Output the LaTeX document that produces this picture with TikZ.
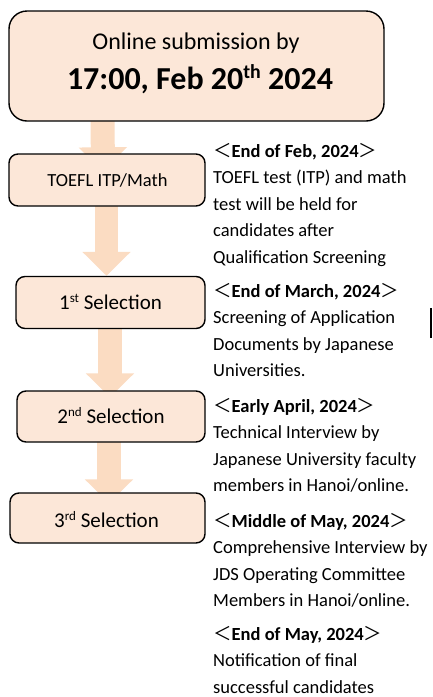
\documentclass[tikz,border=0pt]{standalone}
\usepackage{fontspec}
\setmainfont{Carlito}
\newfontfamily\cjkf{Noto Sans CJK JP}
\usetikzlibrary{arrows.meta,calc}
\definecolor{boxfill}{RGB}{252,231,216}
\definecolor{arrowfill}{RGB}{251,220,194}
\pgfdeclarelayer{bg}
\pgfsetlayers{bg,main}
\newcommand{\hdr}[1]{{\cjkf ＜}\textbf{#1}{\cjkf ＞}}
\newcommand{\sups}[1]{\raisebox{0.33em}{\scalebox{0.62}{#1}}}
\begin{document}
\begin{tikzpicture}[x=1pt,y=1pt,
  stepbox/.style={draw=black, line width=1.4pt, fill=boxfill, inner sep=0pt, rounded corners=9pt},
  fat/.style={color=arrowfill, line width=24pt, -{Triangle[length=24pt,width=47pt]}},
  side/.style={anchor=base west, inner sep=0pt, font=\fontsize{18.5}{22}\selectfont}
]
\useasboundingbox (0,0) rectangle (432,-697);
% boxes
\node[stepbox, rounded corners=18pt, minimum width=375pt, minimum height=110pt] (top) at (196.5,-66) {};
\node[anchor=base, font=\fontsize{24}{28}\selectfont] (t1) at (196,-49) {Online submission by};
\node[anchor=base, font=\fontsize{32}{36}\selectfont\bfseries] (t2) at (200,-89) {17:00, Feb 20\sups{th} 2024};
\node[stepbox, minimum width=196pt, minimum height=52pt] (toefl) at (107,-180) {};
\node[anchor=base, font=\fontsize{18.5}{22}\selectfont] at (107.5,-186) {TOEFL ITP/Math};
\node[stepbox, minimum width=189pt, minimum height=52pt] (s1) at (110.5,-302.5) {};
\node[anchor=base, font=\fontsize{21}{25}\selectfont] at (110.5,-309) {1\sups{st} Selection};
\node[stepbox, minimum width=188pt, minimum height=51pt] (s2) at (111,-416.5) {};
\node[anchor=base, font=\fontsize{21}{25}\selectfont] at (111,-423) {2\sups{nd} Selection};
\node[stepbox, minimum width=195pt, minimum height=50pt] (s3) at (107.5,-518) {};
\node[anchor=base, font=\fontsize{21}{25}\selectfont] at (106.5,-527) {3\sups{rd} Selection};
% arrows
\begin{pgfonlayer}{bg}
\draw[fat] ([xshift=-94pt,yshift=4pt]top.south) -- ([xshift=-4pt,yshift=-18pt]toefl.north);
\draw[fat, line width=23pt] ([xshift=-0.5pt,yshift=4pt]toefl.south) -- ([xshift=-4pt,yshift=0pt]s1.north);
\draw[fat] ([xshift=-0.5pt,yshift=4pt]s1.south) -- ([xshift=-1pt,yshift=-7pt]s2.north);
\draw[fat] ([xshift=-2pt,yshift=4pt]s2.south) -- ([xshift=1.5pt,yshift=-11pt]s3.north);
\end{pgfonlayer}
% side texts
\node[side] (b1a) at (213,-157) {\hdr{End of Feb, 2024}};
\node[side] (b1b) at (213,-183.5) {TOEFL test (ITP) and math};
\node[side] (b1c) at (213,-210) {test will be held for};
\node[side] (b1d) at (213,-236.5) {candidates after};
\node[side] (b1e) at (213,-263) {Qualification Screening};
\node[side] (b2a) at (213,-297) {\hdr{End of March, 2024}};
\node[side] (b2b) at (213,-323.5) {Screening of Application};
\node[side] (b2c) at (213,-350) {Documents by Japanese};
\node[side] (b2d) at (213,-376.5) {Universities.};
\node[side] (b3a) at (213,-412) {\hdr{Early April, 2024}};
\node[side] (b3b) at (213,-438.5) {Technical Interview by};
\node[side] (b3c) at (213,-465) {Japanese University faculty};
\node[side] (b3d) at (213,-491.5) {members in Hanoi/online.};
\node[side] (b4a) at (213,-527) {\hdr{Middle of May, 2024}};
\node[side] (b4b) at (213,-553.5) {Comprehensive Interview by};
\node[side] (b4c) at (213,-580) {JDS Operating Committee};
\node[side] (b4d) at (213,-606.5) {Members in Hanoi/online.};
\node[side] (b5a) at (213,-640) {\hdr{End of May, 2024}};
\node[side] (b5b) at (213,-666.5) {Notification of final};
\node[side] (b5c) at (213,-693) {successful candidates};
% edge mark
\coordinate (e1) at (431,-308);
\coordinate (e2) at (431,-338);
\draw[line width=1.5pt] (e1) -- (e2);
\end{tikzpicture}
\end{document}
